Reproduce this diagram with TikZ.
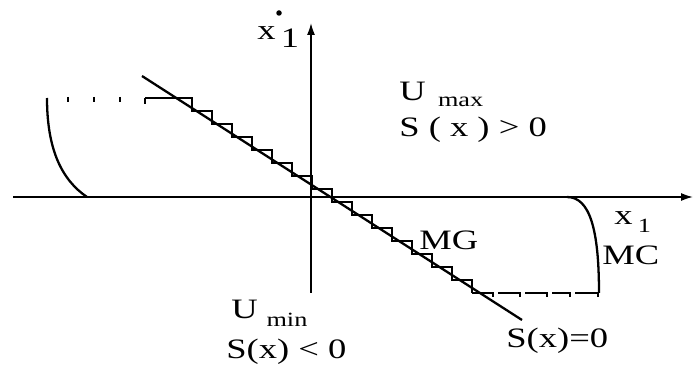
\documentclass[tikz,border=0pt]{standalone}
\usepackage{fontspec}
\setmainfont{Liberation Serif}[FakeStretch=1.3]
\usetikzlibrary{arrows.meta}
\newcommand{\lowsub}[2]{\lower#1\hbox{\fontsize{11.5}{12}\selectfont #2}}

\begin{document}
\begin{tikzpicture}[x=0.02cm,y=-0.02cm,
    axis/.style={line width=0.9pt,-{Latex[length=0.24cm,width=0.16cm]}},
    curve/.style={line width=1.3pt},
    stair/.style={line width=1.2pt},
    tick/.style={line width=1.2pt},
    lbl/.style={font=\fontsize{16}{18}\selectfont,inner sep=0pt,anchor=base west}
]
\useasboundingbox (0,0) rectangle (694,368);

% Axes
\coordinate (xs) at (13,197);
\coordinate (xe) at (693,197);
\coordinate (ys) at (311,293);
\coordinate (ye) at (311,23);
\draw[axis] (xs) -- (xe);
\draw[axis] (ys) -- (ye);

% Switching line S(x)=0
\coordinate (s1) at (142,76);
\coordinate (s2) at (522,320);
\draw[curve] (s1) -- (s2);

% Staircase (MG)
\coordinate (g0) at (145,98);
\draw[stair] (g0) -- ++(0,6);
\draw[stair] (g0) -- (172,98)
  \foreach \k in {0,...,14} { -- ++(20,0) -- ++(0,13) };

% Saturation, top left
\foreach \x in {68,94,120}
  \draw[tick] (\x,97) -- (\x,102);

% Saturation, bottom right
\foreach \a/\b in {472/493,498/520,525/547,552/570,575/598}
  \draw[tick] (\a,293) -- (\b,293) -- (\b,297);

% Curves (MC)
\coordinate (c1) at (47,98);
\coordinate (c2) at (87,197);
\coordinate (c3) at (567,197);
\coordinate (c4) at (599,293);
\draw[curve] (c1) .. controls (47,150) and (62,180) .. (c2);
\draw[curve] (c3) .. controls (590,197) and (599,230) .. (c4);

% Labels
\node[circle,fill,inner sep=0pt,minimum size=0.11cm] (dot) at (279,13) {};
\node[lbl] (xv) at (257,40) {x\hspace{3pt}\lower4.5pt\hbox{1}};
\node[lbl] (xh) at (614,225) {x\hspace{3pt}\lowsub{4pt}{1}};
\node[lbl] (umax) at (399,101) {U\hspace{7pt}\lowsub{3pt}{max}};
\node[lbl] (spos) at (399,137) {S ( x ) > 0};
\node[lbl] (mg) at (419,250) {MG};
\node[lbl] (mc) at (602,265) {MC};
\node[lbl] (umin) at (231,318) {U\hspace{5pt}\lowsub{5pt}{min}};
\node[lbl] (sneg) at (226,358) {S(x) < 0};
\node[lbl] (szero) at (506,347) {S(x)=0};

\end{tikzpicture}
\end{document}
